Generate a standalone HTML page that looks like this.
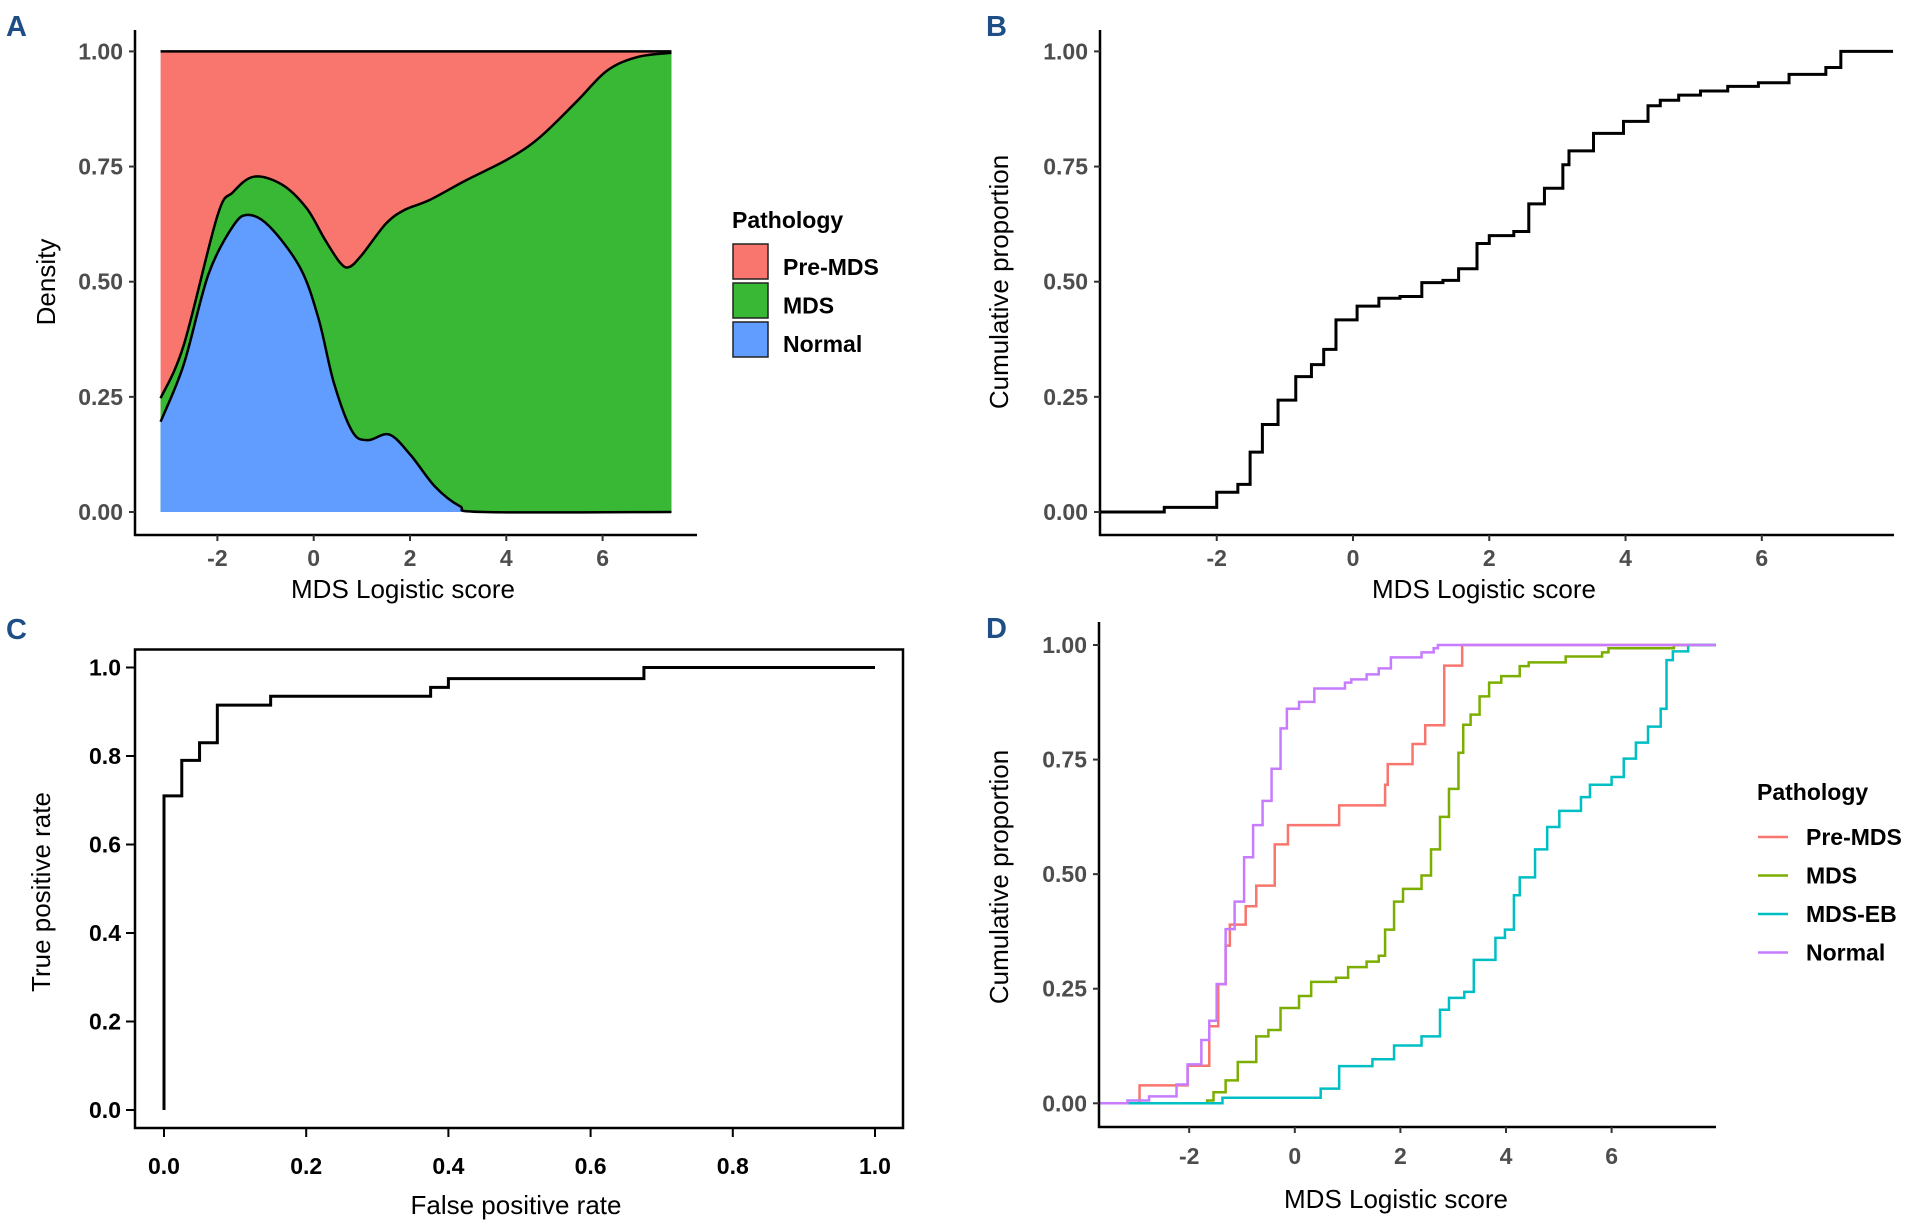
<!DOCTYPE html>
<html><head><meta charset="utf-8"><style>
html,body{margin:0;padding:0;background:#fff;}
svg{display:block;font-family:"Liberation Sans",Arial,sans-serif;}
.tick{font-size:23px;font-weight:bold;fill:#4d4d4d;}
.ttl{font-size:26px;fill:#000;}
.lbl{font-size:29px;font-weight:bold;fill:#1d4f86;}
.leg{font-size:23px;font-weight:bold;fill:#000;}
</style></head><body>
<svg id="fig" width="1912" height="1230" viewBox="0 0 1912 1230" xmlns="http://www.w3.org/2000/svg"></svg>
<script>
// ---- Panel A data (conditional density) ----
const aBlueX=[-3.18,-2.7,-2.19,-1.68,-1.36,-0.92,-0.28,0.1,0.42,0.8,1.12,1.57,2.01,2.52,3.03,3.54,7.43];
const aBlueY=[0.196,0.32,0.515,0.62,0.645,0.62,0.53,0.42,0.28,0.175,0.156,0.168,0.124,0.055,0.013,0,0];
const aGreenX=[-3.18,-2.7,-2.0,-1.68,-1.24,-0.66,-0.15,0.23,0.55,0.74,1.0,1.5,1.89,2.4,3.16,4.05,4.69,5.45,6.09,6.73,7.43];
const aGreenY=[0.247,0.362,0.643,0.694,0.728,0.711,0.66,0.592,0.541,0.532,0.558,0.626,0.656,0.677,0.72,0.767,0.813,0.89,0.958,0.988,0.997];
const aXTicks=[-2,0,2,4,6];
const aYTicks=[0,0.25,0.5,0.75,1];
const aLegend=["Pre-MDS","MDS","Normal"];
// ---- Panel B data (ECDF) ----
const bX=[-3.17,-2.77,-2.28,-2.0,-1.69,-1.51,-1.33,-1.1,-0.84,-0.61,-0.43,-0.25,0.06,0.38,0.69,1.01,1.32,1.55,1.82,2.0,2.36,2.58,2.81,3.08,3.17,3.53,3.97,4.33,4.51,4.78,5.1,5.5,5.95,6.4,6.94,7.16];
const bY=[0,0.01,0.01,0.043,0.06,0.13,0.19,0.243,0.294,0.32,0.353,0.417,0.447,0.464,0.468,0.498,0.503,0.528,0.583,0.6,0.609,0.669,0.703,0.754,0.784,0.822,0.848,0.882,0.894,0.905,0.914,0.924,0.932,0.95,0.965,1.0];
const bXTicks=[-2,0,2,4,6];
const bYTicks=[0,0.25,0.5,0.75,1];
// ---- Panel C data (ROC) ----
const cFpr=[0,0.025,0.05,0.075,0.15,0.375,0.4,0.675,1];
const cTpr=[0.71,0.79,0.83,0.915,0.935,0.955,0.975,1.0,1.0];
const cTicks=[0,0.2,0.4,0.6,0.8,1.0];
// ---- Panel D data (ECDF by group) ----
const dPreX=[-2.94,-2.03,-1.62,-1.45,-1.31,-1.23,-0.93,-0.73,-0.38,-0.13,0.84,1.71,1.76,2.23,2.47,2.83,3.17];
const dPreY=[0.039,0.082,0.168,0.26,0.344,0.39,0.43,0.475,0.565,0.607,0.65,0.695,0.74,0.784,0.825,0.955,1.0];
const dMdsX=[-1.66,-1.54,-1.31,-1.08,-0.73,-0.5,-0.27,0.08,0.31,0.78,1.01,1.36,1.59,1.71,1.88,2.05,2.4,2.58,2.75,2.92,3.1,3.19,3.33,3.5,3.68,3.91,4.26,4.43,5.13,5.82,5.94,7.18];
const dMdsY=[0.006,0.024,0.05,0.09,0.146,0.16,0.208,0.234,0.265,0.274,0.297,0.309,0.322,0.379,0.44,0.468,0.497,0.554,0.625,0.686,0.765,0.826,0.848,0.888,0.918,0.932,0.954,0.962,0.975,0.984,0.993,1.0];
const dEbX=[-1.37,0.49,0.84,1.47,1.88,2.4,2.75,2.92,3.21,3.39,3.8,3.98,4.15,4.26,4.55,4.78,5.01,5.42,5.59,6.0,6.23,6.46,6.69,6.93,7.04,7.16,7.45];
const dEbY=[0.012,0.032,0.081,0.096,0.126,0.146,0.204,0.23,0.243,0.313,0.361,0.379,0.454,0.493,0.554,0.603,0.638,0.668,0.695,0.712,0.752,0.787,0.822,0.861,0.967,0.986,1.0];
const dNorX=[-3.17,-2.76,-2.24,-2.03,-1.77,-1.62,-1.48,-1.31,-1.14,-0.96,-0.79,-0.61,-0.44,-0.27,-0.15,0.08,0.37,0.95,1.07,1.36,1.59,1.82,2.4,2.63,2.71];
const dNorY=[0.006,0.015,0.041,0.085,0.138,0.18,0.26,0.38,0.44,0.537,0.607,0.66,0.73,0.818,0.861,0.876,0.905,0.918,0.925,0.936,0.949,0.973,0.984,0.993,1.0];
const dLegend=["Pre-MDS","MDS","MDS-EB","Normal"];
const dXTicks=[-2,0,2,4,6];
const dYTicks=[0,0.25,0.5,0.75,1];

const NS="http://www.w3.org/2000/svg";
const svg=document.getElementById('fig');
function mk(tag,attrs,parent){const e=document.createElementNS(NS,tag);for(const k in attrs)e.setAttribute(k,attrs[k]);(parent||svg).appendChild(e);return e;}
function txt(s,attrs,parent){const e=mk('text',attrs,parent);e.textContent=s;return e;}
function lin(d0,d1,r0,r1){return v=>r0+(v-d0)/(d1-d0)*(r1-r0);}
function stepPath(xs,ys,xmin,xmax,sx,sy){
  let d='M'+sx(xmin)+','+sy(0);
  let prev=0;
  for(let i=0;i<xs.length;i++){d+=' L'+sx(xs[i])+','+sy(prev)+' L'+sx(xs[i])+','+sy(ys[i]);prev=ys[i];}
  d+=' L'+sx(xmax)+','+sy(prev);return d;}
function smoothPts(xs,ys,sx,sy){
  // Catmull-Rom to cubic bezier
  const p=xs.map((x,i)=>[sx(x),sy(ys[i])]);
  let d='M'+p[0][0]+','+p[0][1];
  for(let i=0;i<p.length-1;i++){
    const p0=p[Math.max(0,i-1)],p1=p[i],p2=p[i+1],p3=p[Math.min(p.length-1,i+2)];
    const c1=[p1[0]+(p2[0]-p0[0])/6,p1[1]+(p2[1]-p0[1])/6];
    const c2=[p2[0]-(p3[0]-p1[0])/6,p2[1]-(p3[1]-p1[1])/6];
    d+=' C'+c1[0]+','+c1[1]+' '+c2[0]+','+c2[1]+' '+p2[0]+','+p2[1];}
  return d;}

// ================= Panel A =================
(function(){
  const g=mk('g',{});
  
  
  const sx=lin(0,2,313.7,410),sy=lin(0,1,512,51.4);
  const x0=aGreenX[0],x1=aGreenX[aGreenX.length-1];
  const red=mk('rect',{x:sx(x0),y:sy(1),width:sx(x1)-sx(x0),height:sy(0)-sy(1),fill:'#f8766d'},g);
  
  const gTop=smoothPts(aGreenX,aGreenY,sx,sy);
  const green=mk('path',{d:gTop+' L'+sx(x1)+','+sy(0)+' L'+sx(x0)+','+sy(0)+' Z',fill:'#39b835'},g);
  
  const bTop=smoothPts(aBlueX,aBlueY,sx,sy);
  const blue=mk('path',{d:bTop+' L'+sx(aBlueX[0])+','+sy(0)+' Z',fill:'#619cff'},g);
  
  const o1=mk('path',{d:gTop,fill:'none',stroke:'#000','stroke-width':2.5},g);
  
  const o2=mk('path',{d:bTop,fill:'none',stroke:'#000','stroke-width':2.5},g);
  
  const o3=mk('line',{x1:sx(x0),x2:sx(x1),y1:sy(1),y2:sy(1),stroke:'#000','stroke-width':2.5},g);
  
  // axes
  const ya=mk('line',{x1:135,x2:135,y1:30,y2:536,stroke:'#000','stroke-width':2.5},g);
  
  const xa=mk('line',{x1:134,x2:697,y1:535,y2:535,stroke:'#000','stroke-width':2.5},g);
  
  aYTicks.forEach(v=>{
    mk('line',{x1:129,x2:135,y1:sy(v),y2:sy(v),stroke:'#333','stroke-width':2},g);
    const t=txt(v.toFixed(2),{x:123,y:sy(v)+8,'text-anchor':'end',class:'tick'},g);
    });
  aXTicks.forEach(v=>{
    mk('line',{x1:sx(v),x2:sx(v),y1:535,y2:541,stroke:'#333','stroke-width':2},g);
    const t=txt(String(v),{x:sx(v),y:566,'text-anchor':'middle',class:'tick'},g);
    });
  const xt=txt('MDS Logistic score',{x:403,y:598,'text-anchor':'middle',class:'ttl'},g);
  
  const yt=txt('Density',{x:0,y:0,'text-anchor':'middle',class:'ttl',transform:'translate(55,282) rotate(-90)'},g);
  
  const lt=txt('Pathology',{x:732,y:228,class:'leg'},g);
  
  const cols=['#f8766d','#39b835','#619cff'];
  aLegend.forEach((n,i)=>{
    const k=mk('rect',{x:733,y:244+i*39,width:35,height:35,fill:cols[i],stroke:'#222','stroke-width':1.5},g);
    
    const t=txt(n,{x:783,y:275+i*38.5,class:'leg'},g);
    });
  const L=txt('A',{x:6,y:36,class:'lbl'},g);
  
})();

// ================= Panel B =================
(function(){
  const g=mk('g',{});
  
  
  const sx=lin(0,6,1353,1761.8),sy=lin(0,1,512,51.4);
  const xmin=(1100-1353)/68.13,xmax=(1893-1353)/68.13;
  const p=mk('path',{d:stepPath(bX,bY,xmin,xmax,sx,sy),fill:'none',stroke:'#000','stroke-width':3},g);
  
  const ya=mk('line',{x1:1100,x2:1100,y1:30,y2:536,stroke:'#000','stroke-width':2.5},g);
  
  const xa=mk('line',{x1:1099,x2:1894,y1:535,y2:535,stroke:'#000','stroke-width':2.5},g);
  
  bYTicks.forEach(v=>{
    mk('line',{x1:1094,x2:1100,y1:sy(v),y2:sy(v),stroke:'#333','stroke-width':2},g);
    const t=txt(v.toFixed(2),{x:1088,y:sy(v)+8,'text-anchor':'end',class:'tick'},g);
    });
  bXTicks.forEach(v=>{
    mk('line',{x1:sx(v),x2:sx(v),y1:535,y2:541,stroke:'#333','stroke-width':2},g);
    const t=txt(String(v),{x:sx(v),y:566,'text-anchor':'middle',class:'tick'},g);
    });
  const xt=txt('MDS Logistic score',{x:1484,y:598,'text-anchor':'middle',class:'ttl'},g);
  
  const yt=txt('Cumulative proportion',{x:0,y:0,'text-anchor':'middle',class:'ttl',transform:'translate(1008,282) rotate(-90)'},g);
  
  const L=txt('B',{x:986,y:36,class:'lbl'},g);
  
})();

// ================= Panel C =================
(function(){
  const g=mk('g',{});
  
  
  const sx=lin(0,1,164,875),sy=lin(0,1,1110,667.5);
  const box=mk('rect',{x:135,y:649.5,width:768,height:478.5,fill:'none',stroke:'#000','stroke-width':2.5},g);
  
  let d='M'+sx(0)+','+sy(0);
  for(let i=0;i<cFpr.length;i++){d+=' L'+sx(cFpr[i])+','+sy(cTpr[i]);if(i+1<cFpr.length)d+=' L'+sx(cFpr[i+1])+','+sy(cTpr[i]);}
  const p=mk('path',{d:d,fill:'none',stroke:'#000','stroke-width':3},g);
  
  cTicks.forEach(v=>{
    mk('line',{x1:126,x2:135,y1:sy(v),y2:sy(v),stroke:'#000','stroke-width':2},g);
    const t=txt(v.toFixed(1),{x:121,y:sy(v)+8,'text-anchor':'end',class:'tick',style:'fill:#000'},g);
    
    mk('line',{x1:sx(v),x2:sx(v),y1:1128,y2:1137,stroke:'#000','stroke-width':2},g);
    const t2=txt(v.toFixed(1),{x:sx(v),y:1174,'text-anchor':'middle',class:'tick',style:'fill:#000'},g);
    });
  const xt=txt('False positive rate',{x:516,y:1214,'text-anchor':'middle',class:'ttl'},g);
  
  const yt=txt('True positive rate',{x:0,y:0,'text-anchor':'middle',class:'ttl',transform:'translate(50,892) rotate(-90)'},g);
  
  const L=txt('C',{x:6,y:639,class:'lbl'},g);
  
})();

// ================= Panel D =================
(function(){
  const g=mk('g',{});
  
  
  const sx=lin(0,6,1294.8,1611.6),sy=lin(0,1,1103.3,645);
  const xmin=(1099-1294.8)/52.8,xmax=(1716-1294.8)/52.8;
  const cols=['#f8766d','#7cae00','#00bfc4','#c77cff'];
  const series=[[dPreX,dPreY],[dMdsX,dMdsY],[dEbX,dEbY],[dNorX,dNorY]];
  const names=['line-pre-mds','line-mds','line-mds-eb','line-normal'];
  series.forEach((s,i)=>{
    const p=mk('path',{d:stepPath(s[0],s[1],xmin,xmax,sx,sy),fill:'none',stroke:cols[i],'stroke-width':2.5},g);
    
    });
  const ya=mk('line',{x1:1099,x2:1099,y1:622,y2:1128,stroke:'#000','stroke-width':2.5},g);
  
  const xa=mk('line',{x1:1098,x2:1716,y1:1127,y2:1127,stroke:'#000','stroke-width':2.5},g);
  
  dYTicks.forEach(v=>{
    mk('line',{x1:1093,x2:1099,y1:sy(v),y2:sy(v),stroke:'#333','stroke-width':2},g);
    const t=txt(v.toFixed(2),{x:1087,y:sy(v)+8,'text-anchor':'end',class:'tick'},g);
    });
  dXTicks.forEach(v=>{
    mk('line',{x1:sx(v),x2:sx(v),y1:1127,y2:1133,stroke:'#333','stroke-width':2},g);
    const t=txt(String(v),{x:sx(v),y:1164,'text-anchor':'middle',class:'tick'},g);
    });
  const xt=txt('MDS Logistic score',{x:1396,y:1208,'text-anchor':'middle',class:'ttl'},g);
  
  const yt=txt('Cumulative proportion',{x:0,y:0,'text-anchor':'middle',class:'ttl',transform:'translate(1008,877) rotate(-90)'},g);
  
  const lt=txt('Pathology',{x:1757,y:800,class:'leg'},g);
  
  dLegend.forEach((n,i)=>{
    const yy=837+i*38.5;
    const k=mk('line',{x1:1758,x2:1788,y1:yy,y2:yy,stroke:cols[i],'stroke-width':2.5},g);
    
    const t=txt(n,{x:1806,y:yy+8,class:'leg'},g);
    });
  const L=txt('D',{x:986,y:638,class:'lbl'},g);
  
})();
</script>
</body></html>
